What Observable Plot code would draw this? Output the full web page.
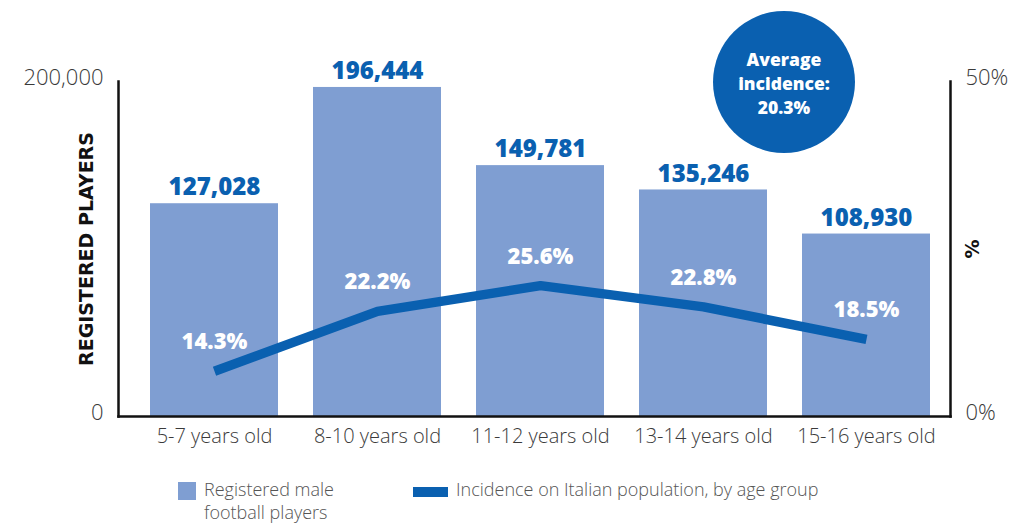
<!DOCTYPE html>
<html>
<head>
<meta charset="utf-8">
<script src="https://cdn.jsdelivr.net/npm/d3@7"></script>
<script src="https://cdn.jsdelivr.net/npm/@observablehq/plot@0.6"></script>
<style>
  html, body { margin: 0; padding: 0; background: #fff; }
  #wrap { position: relative; width: 1011px; height: 523px; font-family: "Open Sans", sans-serif; }
  #wrap svg { position: absolute; left: 0; top: 0; }
  #badge { position: absolute; left: 713px; top: 11px; width: 142px; height: 142px; border-radius: 50%;
    background: #0a60b0; color: #fff; display: flex; flex-direction: column; align-items: center; justify-content: center;
    text-align: center; font-weight: 800; font-size: 17.5px; line-height: 24px; padding-top: 1px; box-sizing: border-box; }
  #legend { position: absolute; top: 478px; left: 178px; display: flex; font-size: 18px; font-weight: 300; color: #555; line-height: 22.5px; }
  .item { display: flex; align-items: flex-start; }
  .sw1 { width: 18px; height: 18px; background: #7f9ed2; margin-top: 4px; margin-right: 8px; }
  .sw2 { width: 35px; height: 10px; background: #0a60b0; margin-top: 9px; margin-right: 8px; }
</style>
</head>
<body>
<div id="wrap"></div>
<script>
// ---- data ----
const groups = ["5-7 years old", "8-10 years old", "11-12 years old", "13-14 years old", "15-16 years old"];
const players = [127028, 196444, 149781, 135246, 108930];
const incidence = [14.3, 22.2, 25.6, 22.8, 18.5];
const averageIncidence = 20.3;
const playersTicks = [0, 200000];
const pctTicks = [0, 50];
const legendLabels = ["Registered male football players", "Incidence on Italian population, by age group"];

const data = groups.map((g, i) => ({group: g, players: players[i], pct: incidence[i]}));

const W = 1011, H = 470;
const barColor = "#7f9ed2", blue = "#0a60b0";
const font = "'Open Sans', sans-serif";
const comma = d3.format(",");

const xScale = {domain: groups, range: [132.5, 947.5], paddingInner: 0.215, paddingOuter: 0.1075};

const plotA = Plot.plot({
  width: W, height: H,
  marginLeft: 118, marginRight: 61, marginTop: 81, marginBottom: H - 416,
  style: {fontFamily: font, color: "#3a3a3a", background: "transparent", overflow: "visible"},
  x: {...xScale, axis: null},
  y: {domain: [0, playersTicks[1]], axis: null},
  marks: [
    Plot.barY(data, {x: "group", y: "players", fill: barColor}),
    Plot.text(data, {x: "group", y: "players", text: d => comma(d.players), dy: -16,
      fill: blue, fontWeight: 800, fontSize: 24, lineAnchor: "middle"}),
    Plot.axisY({ticks: playersTicks, tickFormat: d => comma(d), tickSize: 0, tickPadding: 15, fontSize: 22,
      fontWeight: 300, dy: -4, label: null, fill: "#3a3a3a"}),
    Plot.axisY({anchor: "right", ticks: playersTicks,
      tickFormat: d => `${d / playersTicks[1] * pctTicks[1]}%`, tickSize: 0, tickPadding: 15,
      fontSize: 22, fontWeight: 300, dy: -4, label: null, fill: "#3a3a3a"}),
    Plot.axisX({tickSize: 0, tickPadding: 12, fontSize: 20, fontWeight: 300, label: null, fill: "#3a3a3a"}),
    Plot.frame({anchor: "left", stroke: "#111", strokeWidth: 2.5}),
    Plot.frame({anchor: "right", stroke: "#111", strokeWidth: 2.5}),
    Plot.frame({anchor: "bottom", stroke: "#111", strokeWidth: 2.5}),
    Plot.text(["REGISTERED PLAYERS"], {frameAnchor: "left", text: d => d, rotate: -90, dx: -32,
      textAnchor: "middle", fontFamily: "'DejaVu Sans', sans-serif",
      fontWeight: 700, fontSize: 19, fill: "#111", lineAnchor: "middle"}),
    Plot.text(["%"], {frameAnchor: "right", text: d => d, rotate: -90, dx: 22,
      textAnchor: "middle", fontFamily: "'DejaVu Sans', sans-serif",
      fontWeight: 700, fontSize: 19, fill: "#111", lineAnchor: "middle"})
  ]
});

// Line layer (incidence, %), drawn on its own y scale
const plotB = Plot.plot({
  width: W, height: H,
  marginLeft: 118, marginRight: 61, marginTop: 81, marginBottom: H - 416,
  style: {fontFamily: font, background: "transparent", overflow: "visible"},
  x: {...xScale, axis: null},
  y: {domain: [0, pctTicks[1]], range: [479, 100.4], axis: null},
  marks: [
    Plot.line(data, {x: "group", y: "pct", stroke: blue, strokeWidth: 9.5, strokeLinecap: "butt", strokeLinejoin: "miter"}),
    Plot.text(data, {x: "group", y: "pct", text: d => d.pct.toFixed(1) + "%", dy: -29,
      fill: "#fff", fontWeight: 800, fontSize: 22, lineAnchor: "middle"})
  ]
});

const wrap = document.getElementById("wrap");
wrap.appendChild(plotA);
wrap.appendChild(plotB);

const badge = document.createElement("div");
badge.id = "badge";
badge.innerHTML = ["Average", "incidence:", `${averageIncidence.toFixed(1)}%`].map(t => `<div>${t}</div>`).join("");
wrap.appendChild(badge);

const legend = document.createElement("div");
legend.id = "legend";
legend.innerHTML = `
  <div class="item" style="width:200px;margin-right:35px"><div class="sw1"></div><div style="width:160px">${legendLabels[0]}</div></div>
  <div class="item"><div class="sw2"></div><div>${legendLabels[1]}</div></div>`;
wrap.appendChild(legend);
</script>
</body>
</html>
